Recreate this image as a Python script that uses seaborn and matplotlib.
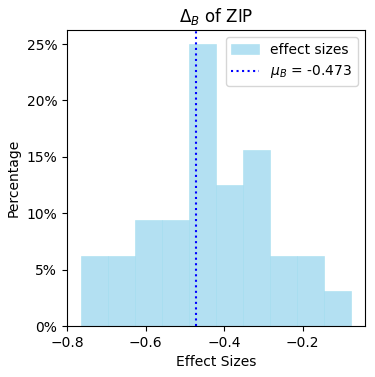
import matplotlib
matplotlib.use("Agg")
import matplotlib.pyplot as plt
from matplotlib.ticker import PercentFormatter
import seaborn as sns
import pandas as pd

effect_sizes = [
    -0.766, -0.72,
    -0.68, -0.64,
    -0.61, -0.59, -0.57,
    -0.55, -0.52, -0.50,
    -0.485, -0.48, -0.47, -0.46, -0.45, -0.44, -0.435, -0.43,
    -0.41, -0.39, -0.38, -0.36,
    -0.34, -0.33, -0.32, -0.30, -0.29,
    -0.26, -0.23,
    -0.20, -0.16,
    -0.0756,
]
mu_B = -0.473
n_bins = 10
title = r"$\Delta_B$ of ZIP"
x_label = "Effect Sizes"
y_label = "Percentage"
hist_label = "effect sizes"
mu_label = r"$\mu_B$ = " + f"{mu_B}"

df = pd.DataFrame({"effect": effect_sizes})

dpi = 100
fig = plt.figure(figsize=(375 / dpi, 377 / dpi), dpi=dpi)
ax = fig.add_axes([67 / 375, 51 / 377, 298 / 375, 296 / 377])

sns.histplot(data=df, x="effect", bins=n_bins, stat="percent",
             color="#87CEEB", alpha=0.63, edgecolor="#a8dff0", linewidth=0.4,
             ax=ax)
ax.axvline(mu_B, color="blue", linestyle=":", linewidth=1.5)

ax.yaxis.set_major_formatter(PercentFormatter(decimals=0))
ax.set_title(title)
ax.set_xlabel(x_label)
ax.set_ylabel(y_label)

handles = [ax.patches[0], ax.lines[0]]
ax.legend(handles, [hist_label, mu_label], loc="upper right")

fig.savefig("out.png", dpi=dpi)
